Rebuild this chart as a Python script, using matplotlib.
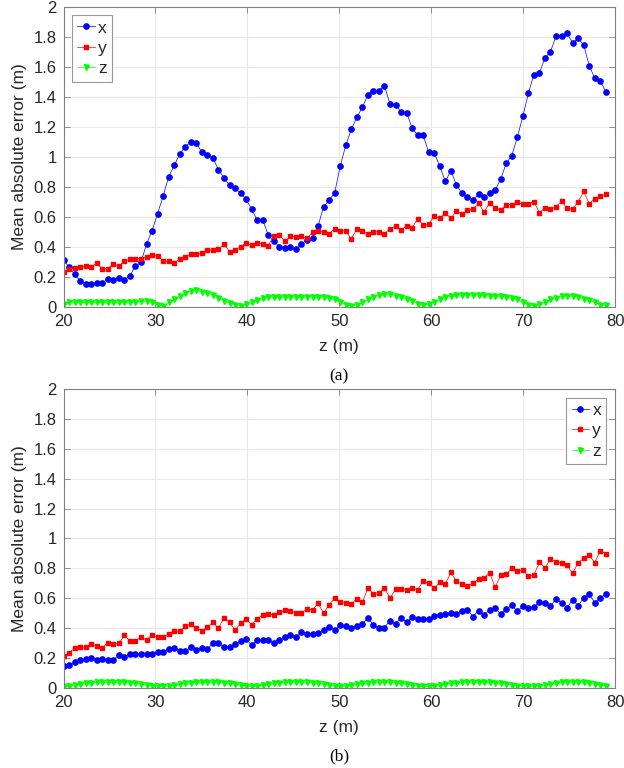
import numpy as np
import matplotlib
matplotlib.use('Agg')
import matplotlib.pyplot as plt

# sample positions along z (m), 99 points
z = np.linspace(20, 79, 99)

# (a) mean absolute error per axis
a_x = [0.311, 0.267, 0.218, 0.173, 0.156, 0.151, 0.162, 0.160, 0.184, 0.180,
       0.193, 0.182, 0.209, 0.271, 0.298, 0.418, 0.507, 0.622, 0.738, 0.867,
       0.942, 1.018, 1.067, 1.098, 1.093, 1.029, 1.013, 0.991, 0.913, 0.860,
       0.809, 0.789, 0.760, 0.716, 0.651, 0.578, 0.578, 0.480, 0.436, 0.402,
       0.391, 0.400, 0.384, 0.418, 0.449, 0.462, 0.540, 0.667, 0.711, 0.760,
       0.936, 1.076, 1.182, 1.262, 1.329, 1.413, 1.440, 1.440, 1.471, 1.351,
       1.342, 1.300, 1.293, 1.191, 1.142, 1.142, 1.029, 1.024, 0.936, 0.836,
       0.907, 0.813, 0.756, 0.729, 0.713, 0.751, 0.729, 0.760, 0.778, 0.851,
       0.956, 1.007, 1.129, 1.269, 1.422, 1.547, 1.558, 1.658, 1.700, 1.802,
       1.802, 1.822, 1.758, 1.789, 1.744, 1.607, 1.522, 1.507, 1.431]
a_y = [0.236, 0.251, 0.258, 0.269, 0.273, 0.269, 0.291, 0.253, 0.256, 0.287,
       0.271, 0.307, 0.316, 0.322, 0.322, 0.333, 0.347, 0.338, 0.307, 0.304,
       0.291, 0.322, 0.331, 0.351, 0.351, 0.356, 0.378, 0.378, 0.384, 0.418,
       0.369, 0.382, 0.400, 0.427, 0.411, 0.424, 0.422, 0.409, 0.473, 0.480,
       0.436, 0.471, 0.467, 0.471, 0.456, 0.498, 0.507, 0.500, 0.489, 0.520,
       0.507, 0.507, 0.453, 0.520, 0.507, 0.489, 0.502, 0.502, 0.487, 0.522,
       0.536, 0.511, 0.542, 0.529, 0.584, 0.547, 0.551, 0.607, 0.591, 0.627,
       0.589, 0.640, 0.616, 0.644, 0.649, 0.691, 0.631, 0.693, 0.660, 0.644,
       0.682, 0.682, 0.696, 0.684, 0.687, 0.702, 0.627, 0.660, 0.651, 0.667,
       0.704, 0.656, 0.653, 0.700, 0.769, 0.687, 0.722, 0.738, 0.751]
a_z = [0.020, 0.030, 0.030, 0.030, 0.030, 0.030, 0.030, 0.030, 0.030, 0.030,
       0.030, 0.030, 0.030, 0.035, 0.038, 0.038, 0.030, 0.015, 0.008, 0.030,
       0.050, 0.072, 0.092, 0.106, 0.110, 0.102, 0.095, 0.078, 0.058, 0.040,
       0.026, 0.014, 0.007, 0.020, 0.030, 0.049, 0.060, 0.065, 0.065, 0.065,
       0.065, 0.065, 0.065, 0.065, 0.065, 0.065, 0.065, 0.065, 0.060, 0.050,
       0.035, 0.015, 0.008, 0.015, 0.030, 0.050, 0.065, 0.080, 0.089, 0.085,
       0.076, 0.066, 0.055, 0.040, 0.022, 0.010, 0.020, 0.035, 0.050, 0.065,
       0.075, 0.080, 0.080, 0.080, 0.080, 0.080, 0.078, 0.072, 0.072, 0.070,
       0.065, 0.060, 0.050, 0.030, 0.015, 0.008, 0.020, 0.035, 0.050, 0.062,
       0.070, 0.075, 0.072, 0.067, 0.055, 0.045, 0.030, 0.015, 0.010]

# (b)
b_x = [0.149, 0.156, 0.171, 0.184, 0.193, 0.200, 0.189, 0.193, 0.184, 0.189,
       0.220, 0.207, 0.224, 0.224, 0.224, 0.229, 0.224, 0.240, 0.238, 0.264,
       0.267, 0.247, 0.247, 0.271, 0.256, 0.267, 0.260, 0.300, 0.300, 0.273,
       0.276, 0.291, 0.313, 0.327, 0.287, 0.320, 0.318, 0.324, 0.304, 0.324,
       0.338, 0.356, 0.338, 0.373, 0.362, 0.360, 0.367, 0.389, 0.411, 0.387,
       0.418, 0.416, 0.398, 0.416, 0.429, 0.469, 0.420, 0.404, 0.404, 0.451,
       0.431, 0.471, 0.438, 0.478, 0.462, 0.462, 0.462, 0.482, 0.491, 0.493,
       0.502, 0.498, 0.518, 0.524, 0.478, 0.518, 0.489, 0.522, 0.536, 0.493,
       0.529, 0.553, 0.513, 0.547, 0.536, 0.542, 0.573, 0.567, 0.547, 0.598,
       0.567, 0.538, 0.589, 0.551, 0.602, 0.627, 0.571, 0.602, 0.629]
b_y = [0.216, 0.233, 0.269, 0.273, 0.273, 0.293, 0.282, 0.267, 0.304, 0.296,
       0.298, 0.353, 0.313, 0.316, 0.338, 0.322, 0.356, 0.340, 0.340, 0.360,
       0.384, 0.378, 0.416, 0.427, 0.398, 0.384, 0.407, 0.438, 0.400, 0.469,
       0.440, 0.387, 0.433, 0.464, 0.422, 0.464, 0.487, 0.498, 0.487, 0.507,
       0.520, 0.513, 0.504, 0.504, 0.527, 0.522, 0.567, 0.500, 0.558, 0.600,
       0.578, 0.571, 0.562, 0.598, 0.573, 0.667, 0.631, 0.638, 0.667, 0.602,
       0.660, 0.660, 0.653, 0.667, 0.658, 0.716, 0.700, 0.667, 0.707, 0.696,
       0.773, 0.713, 0.698, 0.680, 0.700, 0.731, 0.736, 0.771, 0.673, 0.753,
       0.760, 0.800, 0.780, 0.789, 0.747, 0.756, 0.840, 0.804, 0.860, 0.844,
       0.833, 0.820, 0.767, 0.838, 0.867, 0.889, 0.838, 0.918, 0.898]
b_z = [0.010, 0.015, 0.020, 0.025, 0.030, 0.035, 0.038, 0.038, 0.038, 0.038,
       0.038, 0.038, 0.035, 0.032, 0.028, 0.022, 0.015, 0.010, 0.010, 0.013,
       0.018, 0.024, 0.030, 0.034, 0.037, 0.038, 0.038, 0.038, 0.038, 0.036,
       0.032, 0.026, 0.020, 0.014, 0.010, 0.012, 0.018, 0.024, 0.030, 0.035,
       0.038, 0.040, 0.040, 0.040, 0.039, 0.036, 0.032, 0.026, 0.018, 0.012,
       0.010, 0.012, 0.018, 0.024, 0.030, 0.034, 0.037, 0.038, 0.038, 0.037,
       0.034, 0.030, 0.024, 0.018, 0.013, 0.010, 0.010, 0.013, 0.018, 0.024,
       0.030, 0.034, 0.037, 0.038, 0.038, 0.038, 0.038, 0.037, 0.034, 0.030,
       0.026, 0.020, 0.015, 0.011, 0.010, 0.012, 0.016, 0.022, 0.028, 0.033,
       0.037, 0.039, 0.040, 0.040, 0.039, 0.035, 0.028, 0.022, 0.016]

xticks = [20, 30, 40, 50, 60, 70, 80]
yticks = [0, 0.2, 0.4, 0.6, 0.8, 1, 1.2, 1.4, 1.6, 1.8, 2]
ytick_labels = ['0', '0.2', '0.4', '0.6', '0.8', '1', '1.2', '1.4', '1.6', '1.8', '2']

plt.rcParams['font.family'] = ['Liberation Sans', 'DejaVu Sans']
txt = '#262626'
edge = '#808080'

fig = plt.figure(figsize=(6.24, 7.68), dpi=100)
ax_a = fig.add_axes([0.1018, 0.6003, 0.8838, 0.3912])
ax_b = fig.add_axes([0.1018, 0.1042, 0.8838, 0.3893])


def draw(ax, sx, sy, sz, loc, tag):
  ax.plot(z, sx, '-o', color='#0000ff', lw=0.5, ms=3.8, mec='#0000ff', label='x')
  ax.plot(z, sy, '-s', color='#ff0000', lw=0.5, ms=3.0, mec='#ff0000', label='y')
  ax.plot(z, sz, '-v', color='#00ff00', lw=0.5, ms=3.6, mec='#00ff00', label='z')
  ax.set_xlim(20, 80)
  ax.set_ylim(0, 2)
  ax.set_xticks(xticks)
  ax.set_yticks(yticks)
  ax.set_yticklabels(ytick_labels)
  ax.grid(True, color='#e8e8e8', lw=0.8)
  ax.set_axisbelow(True)
  ax.tick_params(direction='in', length=4, width=0.6, color=edge,
                 labelsize=12, labelcolor=txt, top=True, right=True, pad=5)
  for s in ax.spines.values():
    s.set_color(edge)
    s.set_linewidth(0.8)
  ax.set_xlabel('z (m)', fontsize=12.5, color=txt, labelpad=7)
  ax.set_ylabel('Mean absolute error (m)', fontsize=12.5, color=txt, labelpad=5)
  leg = ax.legend(loc=loc, fontsize=12.5, handlelength=1.0, handletextpad=0.2,
                  borderpad=0.3, labelspacing=0.3, borderaxespad=0.5,
                  fancybox=False, framealpha=1)
  leg.get_frame().set_edgecolor('#999999')
  leg.get_frame().set_linewidth(0.8)
  for t in leg.get_texts():
    t.set_color(txt)
  ax.text(0.5, -0.23, tag, transform=ax.transAxes, ha='center', va='center',
          fontsize=12.5, family='Liberation Serif', color='black')


draw(ax_a, a_x, a_y, a_z, 'upper left', '(a)')
draw(ax_b, b_x, b_y, b_z, 'upper right', '(b)')

fig.savefig('out.png', dpi=100)
